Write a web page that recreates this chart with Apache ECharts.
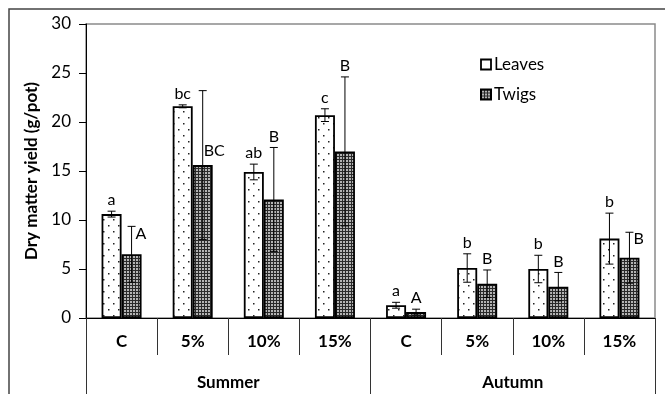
<!DOCTYPE html>
<html>
<head>
<meta charset="utf-8">
<script src="https://cdn.jsdelivr.net/npm/echarts@6/dist/echarts.min.js"></script>
<style>
  html, body { margin: 0; padding: 0; background: #fff; }
  #chart { width: 665px; height: 394px; }
</style>
</head>
<body>
<div id="chart"></div>
<script>
// Dry matter yield per treatment, two seasons
const treatments = ['C', '5%', '10%', '15%', 'C', '5%', '10%', '15%'];
const seasons = ['Summer', 'Autumn'];
const yTicks = [0, 5, 10, 15, 20, 25, 30];

const leaves = [10.6, 21.6, 14.9, 20.7, 1.3, 5.1, 5.0, 8.1];
const leavesErr = [0.3, 0.15, 0.8, 0.65, 0.3, 1.45, 1.4, 2.6];
const leavesLetters = ['a', 'bc', 'ab', 'c', 'a', 'b', 'b', 'b'];

const twigs = [6.5, 15.6, 12.1, 17.0, 0.6, 3.5, 3.2, 6.15];
const twigsErr = [2.85, 7.6, 5.3, 7.6, 0.3, 1.4, 1.45, 2.6];
const twigsLetters = ['A', 'BC', 'B', 'B', 'A', 'B', 'B', 'B'];

// where each twigs letter sits: above the error bar, beside it, or beside the bar top
const twigsLabelPlace = ['errRight', 'barRight', 'top', 'top', 'top', 'top', 'top', 'errRight'];

const FONT = 'Lato, "Open Sans", sans-serif';
const BAR_W = 20;

function dotPattern() {
  const c = document.createElement('canvas');
  c.width = 10; c.height = 12;
  const g = c.getContext('2d');
  g.fillStyle = '#fff';
  g.fillRect(0, 0, 10, 12);
  g.fillStyle = '#222';
  g.fillRect(3, 3, 1.5, 1.5);
  g.fillRect(8, 9, 1.5, 1.5);
  return { image: c, repeat: 'repeat' };
}

function meshPattern() {
  const c = document.createElement('canvas');
  c.width = 3; c.height = 3;
  const g = c.getContext('2d');
  g.fillStyle = '#b4b4b4';
  g.fillRect(0, 0, 3, 3);
  g.fillStyle = '#2a2a2a';
  g.fillRect(0, 0, 3, 1);
  g.fillRect(0, 0, 1, 3);
  return { image: c, repeat: 'repeat' };
}

function errorSeries(values, errs, letters, shift, places) {
  return {
    type: 'custom',
    z: 5,
    silent: true,
    data: values.map((v, i) => [i, v, errs[i]]),
    renderItem: function (params, api) {
      const i = params.dataIndex;
      const v = api.value(1), e = api.value(2);
      const base = api.coord([i, v]);
      const x = base[0] + shift;
      const top = api.coord([i, v + e])[1];
      const bot = api.coord([i, v - e])[1];
      const barTop = base[1];
      const cap = 4;
      const ls = { stroke: '#000', lineWidth: 1 };
      const place = places ? places[i] : 'top';
      let tx = x, ty = top - 3, align = 'center', vAlign = 'bottom';
      if (place === 'errRight') { tx = x + 4; ty = top + 7; align = 'left'; vAlign = 'middle'; }
      if (place === 'barRight') { tx = x + 1; ty = barTop - 14; align = 'left'; vAlign = 'middle'; }
      return {
        type: 'group',
        children: [
          { type: 'line', shape: { x1: x, y1: top, x2: x, y2: bot }, style: ls },
          { type: 'line', shape: { x1: x - cap, y1: top, x2: x + cap, y2: top }, style: ls },
          { type: 'line', shape: { x1: x - cap, y1: bot, x2: x + cap, y2: bot }, style: ls },
          {
            type: 'text',
            style: {
              x: tx, y: ty, text: letters[i],
              fill: '#000', font: '16px ' + FONT,
              textAlign: align, textVerticalAlign: vAlign
            }
          }
        ]
      };
    }
  };
}

const chart = echarts.init(document.getElementById('chart'), null, { renderer: 'canvas' });
chart.setOption({
  animation: false,
  backgroundColor: '#fff',
  textStyle: { fontFamily: FONT, color: '#000' },
  grid: {
    left: 86, right: 10, top: 24, bottom: 76,
    show: true, borderColor: '#8a8a8a', borderWidth: 1.5
  },
  graphic: [
    {
      type: 'polyline',
      shape: { points: [[9, 394], [9, 9], [665, 9]] },
      style: { stroke: '#444', lineWidth: 1.5, fill: null },
      silent: true
    }
  ],
  legend: {
    orient: 'vertical',
    left: 475, top: 51,
    icon: 'rect',
    itemWidth: 10, itemHeight: 10, itemGap: 13,
    textStyle: { fontSize: 17, color: '#000', fontFamily: FONT, padding: [0, 0, 0, -2] },
    data: [
      { name: 'Leaves', itemStyle: { color: '#fff', borderColor: '#000', borderWidth: 1.8 } },
      { name: 'Twigs' }
    ]
  },
  xAxis: [
    {
      type: 'category',
      data: treatments,
      position: 'bottom',
      axisLine: { lineStyle: { color: '#000', width: 1 } },
      axisTick: { show: true, interval: 0, length: 37, lineStyle: { color: '#333' } },
      axisLabel: { interval: 0, margin: 15, fontSize: 17, fontWeight: 'bold', color: '#000', fontFamily: FONT }
    },
    {
      type: 'category',
      data: seasons,
      position: 'bottom',
      axisLine: { show: false },
      axisTick: { show: true, interval: 0, length: 80, lineStyle: { color: '#333' } },
      axisLabel: { interval: 0, margin: 56, fontSize: 17, fontWeight: 'bold', color: '#000', fontFamily: FONT }
    }
  ],
  yAxis: {
    type: 'value',
    min: yTicks[0], max: yTicks[yTicks.length - 1], interval: 5,
    name: 'Dry matter yield (g/pot)',
    nameLocation: 'middle',
    nameGap: 44,
    nameTextStyle: { fontSize: 17, fontWeight: 'bold', color: '#000', fontFamily: FONT },
    axisLine: { show: true, lineStyle: { color: '#000', width: 1 } },
    axisTick: { show: true, length: 7, lineStyle: { color: '#000' } },
    axisLabel: { fontSize: 17, color: '#000', margin: 15, fontFamily: FONT },
    splitLine: { show: false }
  },
  series: [
    {
      name: 'Leaves', type: 'bar', data: leaves,
      barWidth: BAR_W, barGap: '0%',
      itemStyle: { color: dotPattern(), borderColor: '#000', borderWidth: 1.8 }
    },
    {
      name: 'Twigs', type: 'bar', data: twigs,
      barWidth: BAR_W, barGap: '0%',
      itemStyle: { color: meshPattern(), borderColor: '#000', borderWidth: 1.8 }
    },
    errorSeries(leaves, leavesErr, leavesLetters, -BAR_W / 2, null),
    errorSeries(twigs, twigsErr, twigsLetters, BAR_W / 2, twigsLabelPlace)
  ]
});
</script>
</body>
</html>
